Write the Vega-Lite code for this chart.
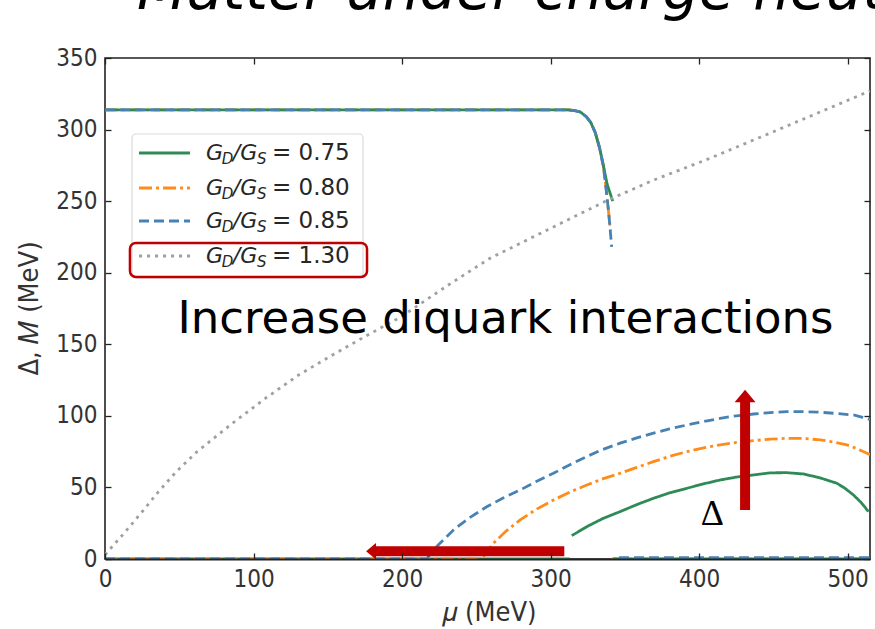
{
  "$schema": "https://vega.github.io/schema/vega-lite/v6.json",
  "autosize": "none",
  "width": 765,
  "height": 501,
  "padding": {"left": 105, "top": 58, "right": 5, "bottom": 70},
  "background": "white",
  "config": {
    "view": {"stroke": "#222", "strokeWidth": 1.6},
    "axis": {
      "labelFont": "DejaVu Sans Condensed",
      "labelFontSize": 24,
      "labelColor": "#333",
      "titleFont": "DejaVu Sans Condensed",
      "titleFontSize": 27,
      "titleColor": "#333",
      "titleFontWeight": "normal",
      "tickColor": "#222",
      "tickWidth": 1.3,
      "tickSize": -6,
      "grid": false,
      "domain": false,
      "labelFlush": false
    }
  },
  "resolve": {"axis": {"x": "independent", "y": "independent"}},
  "datasets": {
    "legendRows": [
      {"g": "0.75", "ly": 283.6, "yb": 278.7},
      {"g": "0.80", "ly": 259.2, "yb": 254.3},
      {"g": "0.85", "ly": 236.1, "yb": 231.3},
      {"g": "1.30", "ly": 211.6, "yb": 206.9}
    ]
  },
  "layer": [
    {
      "data": {"values": [
        {"g": "0.80", "seg": "M", "mu": 0, "v": 313.8},
        {"g": "0.80", "seg": "M", "mu": 150, "v": 313.8},
        {"g": "0.80", "seg": "M", "mu": 300, "v": 313.8},
        {"g": "0.80", "seg": "M", "mu": 312, "v": 313.7},
        {"g": "0.80", "seg": "M", "mu": 316, "v": 313.3},
        {"g": "0.80", "seg": "M", "mu": 320, "v": 312.3},
        {"g": "0.80", "seg": "M", "mu": 324, "v": 309},
        {"g": "0.80", "seg": "M", "mu": 327, "v": 305},
        {"g": "0.80", "seg": "M", "mu": 330, "v": 298},
        {"g": "0.80", "seg": "M", "mu": 333, "v": 287},
        {"g": "0.80", "seg": "M", "mu": 335.5, "v": 275},
        {"g": "0.80", "seg": "M", "mu": 337.8, "v": 255},
        {"g": "0.80", "seg": "M", "mu": 340.3, "v": 229},
        {"g": "0.80", "seg": "ML", "mu": 341, "v": 0},
        {"g": "0.80", "seg": "ML", "mu": 515, "v": 0},
        {"g": "0.75", "seg": "M", "mu": 0, "v": 313.8},
        {"g": "0.75", "seg": "M", "mu": 150, "v": 313.8},
        {"g": "0.75", "seg": "M", "mu": 300, "v": 313.8},
        {"g": "0.75", "seg": "M", "mu": 312, "v": 313.7},
        {"g": "0.75", "seg": "M", "mu": 316, "v": 313.3},
        {"g": "0.75", "seg": "M", "mu": 320, "v": 312.3},
        {"g": "0.75", "seg": "M", "mu": 324, "v": 309},
        {"g": "0.75", "seg": "M", "mu": 327, "v": 305},
        {"g": "0.75", "seg": "M", "mu": 330, "v": 298},
        {"g": "0.75", "seg": "M", "mu": 333, "v": 287},
        {"g": "0.75", "seg": "M", "mu": 335.5, "v": 275},
        {"g": "0.75", "seg": "M", "mu": 338, "v": 262},
        {"g": "0.75", "seg": "M", "mu": 341.8, "v": 250},
        {"g": "0.75", "seg": "ML", "mu": 342, "v": 0},
        {"g": "0.75", "seg": "ML", "mu": 515, "v": 0},
        {"g": "0.85", "seg": "M", "mu": 0, "v": 313.8},
        {"g": "0.85", "seg": "M", "mu": 150, "v": 313.8},
        {"g": "0.85", "seg": "M", "mu": 300, "v": 313.8},
        {"g": "0.85", "seg": "M", "mu": 312, "v": 313.7},
        {"g": "0.85", "seg": "M", "mu": 316, "v": 313.3},
        {"g": "0.85", "seg": "M", "mu": 320, "v": 312.3},
        {"g": "0.85", "seg": "M", "mu": 324, "v": 309},
        {"g": "0.85", "seg": "M", "mu": 327, "v": 305},
        {"g": "0.85", "seg": "M", "mu": 330, "v": 298},
        {"g": "0.85", "seg": "M", "mu": 333, "v": 287},
        {"g": "0.85", "seg": "M", "mu": 335.5, "v": 274},
        {"g": "0.85", "seg": "M", "mu": 336.6, "v": 265},
        {"g": "0.85", "seg": "M", "mu": 339, "v": 243},
        {"g": "0.85", "seg": "M", "mu": 341.1, "v": 218},
        {"g": "0.85", "seg": "ML", "mu": 346, "v": 1},
        {"g": "0.85", "seg": "ML", "mu": 515, "v": 1},
        {"g": "0.75", "seg": "D0", "mu": 0, "v": 0},
        {"g": "0.75", "seg": "D0", "mu": 313, "v": 0},
        {"g": "0.80", "seg": "D0", "mu": 0, "v": 0},
        {"g": "0.80", "seg": "D0", "mu": 254, "v": 0},
        {"g": "0.85", "seg": "D0", "mu": 0, "v": 0},
        {"g": "0.85", "seg": "D0", "mu": 216, "v": 0},
        {"g": "0.75", "seg": "D", "mu": 314.2, "v": 16.3},
        {"g": "0.75", "seg": "D", "mu": 324.4, "v": 22.6},
        {"g": "0.75", "seg": "D", "mu": 335, "v": 28.2},
        {"g": "0.75", "seg": "D", "mu": 346.8, "v": 33.1},
        {"g": "0.75", "seg": "D", "mu": 358, "v": 38},
        {"g": "0.75", "seg": "D", "mu": 369.2, "v": 42.4},
        {"g": "0.75", "seg": "D", "mu": 380, "v": 46.2},
        {"g": "0.75", "seg": "D", "mu": 391.7, "v": 49.4},
        {"g": "0.75", "seg": "D", "mu": 403, "v": 52.5},
        {"g": "0.75", "seg": "D", "mu": 414.1, "v": 55.2},
        {"g": "0.75", "seg": "D", "mu": 425, "v": 57.2},
        {"g": "0.75", "seg": "D", "mu": 436.6, "v": 58.7},
        {"g": "0.75", "seg": "D", "mu": 447.8, "v": 60.2},
        {"g": "0.75", "seg": "D", "mu": 459, "v": 60.3},
        {"g": "0.75", "seg": "D", "mu": 470.2, "v": 59.4},
        {"g": "0.75", "seg": "D", "mu": 481, "v": 56.8},
        {"g": "0.75", "seg": "D", "mu": 492.7, "v": 52.9},
        {"g": "0.75", "seg": "D", "mu": 498, "v": 49.5},
        {"g": "0.75", "seg": "D", "mu": 503.9, "v": 44.7},
        {"g": "0.75", "seg": "D", "mu": 509, "v": 39.5},
        {"g": "0.75", "seg": "D", "mu": 514, "v": 33.1},
        {"g": "0.80", "seg": "D", "mu": 254.8, "v": 1.6},
        {"g": "0.80", "seg": "D", "mu": 257, "v": 5},
        {"g": "0.80", "seg": "D", "mu": 261.5, "v": 11},
        {"g": "0.80", "seg": "D", "mu": 270, "v": 19.5},
        {"g": "0.80", "seg": "D", "mu": 279.5, "v": 27.3},
        {"g": "0.80", "seg": "D", "mu": 290, "v": 34.5},
        {"g": "0.80", "seg": "D", "mu": 301.9, "v": 41.2},
        {"g": "0.80", "seg": "D", "mu": 313, "v": 46.8},
        {"g": "0.80", "seg": "D", "mu": 324.4, "v": 51.7},
        {"g": "0.80", "seg": "D", "mu": 335, "v": 56},
        {"g": "0.80", "seg": "D", "mu": 346.8, "v": 59.9},
        {"g": "0.80", "seg": "D", "mu": 358, "v": 64},
        {"g": "0.80", "seg": "D", "mu": 369.2, "v": 68},
        {"g": "0.80", "seg": "D", "mu": 380, "v": 71.7},
        {"g": "0.80", "seg": "D", "mu": 391.7, "v": 75},
        {"g": "0.80", "seg": "D", "mu": 403, "v": 77.6},
        {"g": "0.80", "seg": "D", "mu": 414.1, "v": 79.7},
        {"g": "0.80", "seg": "D", "mu": 425, "v": 81.4},
        {"g": "0.80", "seg": "D", "mu": 436.6, "v": 82.7},
        {"g": "0.80", "seg": "D", "mu": 447.8, "v": 83.7},
        {"g": "0.80", "seg": "D", "mu": 459, "v": 84.3},
        {"g": "0.80", "seg": "D", "mu": 470, "v": 84.2},
        {"g": "0.80", "seg": "D", "mu": 481.5, "v": 83.2},
        {"g": "0.80", "seg": "D", "mu": 490, "v": 81.8},
        {"g": "0.80", "seg": "D", "mu": 499.4, "v": 79.7},
        {"g": "0.80", "seg": "D", "mu": 506, "v": 77.2},
        {"g": "0.80", "seg": "D", "mu": 513, "v": 73.9},
        {"g": "0.80", "seg": "D", "mu": 515, "v": 72.8},
        {"g": "0.85", "seg": "D", "mu": 216.6, "v": 0},
        {"g": "0.85", "seg": "D", "mu": 220, "v": 5},
        {"g": "0.85", "seg": "D", "mu": 225, "v": 10.5},
        {"g": "0.85", "seg": "D", "mu": 234.6, "v": 20.3},
        {"g": "0.85", "seg": "D", "mu": 245, "v": 28.6},
        {"g": "0.85", "seg": "D", "mu": 257, "v": 36.5},
        {"g": "0.85", "seg": "D", "mu": 268, "v": 42.6},
        {"g": "0.85", "seg": "D", "mu": 279.5, "v": 48.2},
        {"g": "0.85", "seg": "D", "mu": 290, "v": 54},
        {"g": "0.85", "seg": "D", "mu": 301.9, "v": 59.9},
        {"g": "0.85", "seg": "D", "mu": 313, "v": 65.9},
        {"g": "0.85", "seg": "D", "mu": 324.4, "v": 71.6},
        {"g": "0.85", "seg": "D", "mu": 335, "v": 76.5},
        {"g": "0.85", "seg": "D", "mu": 346.8, "v": 80.9},
        {"g": "0.85", "seg": "D", "mu": 358, "v": 84.6},
        {"g": "0.85", "seg": "D", "mu": 369.2, "v": 87.9},
        {"g": "0.85", "seg": "D", "mu": 380, "v": 90.9},
        {"g": "0.85", "seg": "D", "mu": 391.7, "v": 93.6},
        {"g": "0.85", "seg": "D", "mu": 403, "v": 96},
        {"g": "0.85", "seg": "D", "mu": 414.1, "v": 98.3},
        {"g": "0.85", "seg": "D", "mu": 425, "v": 100},
        {"g": "0.85", "seg": "D", "mu": 436.6, "v": 101.3},
        {"g": "0.85", "seg": "D", "mu": 447.8, "v": 102.3},
        {"g": "0.85", "seg": "D", "mu": 459, "v": 102.9},
        {"g": "0.85", "seg": "D", "mu": 470, "v": 102.9},
        {"g": "0.85", "seg": "D", "mu": 481.5, "v": 102.5},
        {"g": "0.85", "seg": "D", "mu": 492, "v": 101.7},
        {"g": "0.85", "seg": "D", "mu": 503.9, "v": 100.6},
        {"g": "0.85", "seg": "D", "mu": 510, "v": 99},
        {"g": "0.85", "seg": "D", "mu": 515, "v": 97.5},
        {"g": "1.30", "seg": "D", "mu": 0, "v": 3},
        {"g": "1.30", "seg": "D", "mu": 12, "v": 17},
        {"g": "1.30", "seg": "D", "mu": 25, "v": 33},
        {"g": "1.30", "seg": "D", "mu": 36, "v": 47},
        {"g": "1.30", "seg": "D", "mu": 48, "v": 61},
        {"g": "1.30", "seg": "D", "mu": 62, "v": 75},
        {"g": "1.30", "seg": "D", "mu": 86, "v": 95},
        {"g": "1.30", "seg": "D", "mu": 109, "v": 113},
        {"g": "1.30", "seg": "D", "mu": 131, "v": 129},
        {"g": "1.30", "seg": "D", "mu": 154, "v": 143},
        {"g": "1.30", "seg": "D", "mu": 176, "v": 156},
        {"g": "1.30", "seg": "D", "mu": 199, "v": 169},
        {"g": "1.30", "seg": "D", "mu": 232, "v": 192},
        {"g": "1.30", "seg": "D", "mu": 259, "v": 210},
        {"g": "1.30", "seg": "D", "mu": 300, "v": 231},
        {"g": "1.30", "seg": "D", "mu": 338, "v": 250.5},
        {"g": "1.30", "seg": "D", "mu": 370, "v": 265},
        {"g": "1.30", "seg": "D", "mu": 405, "v": 279},
        {"g": "1.30", "seg": "D", "mu": 450, "v": 298.5},
        {"g": "1.30", "seg": "D", "mu": 515, "v": 327}
      ]},
      "mark": {"type": "line", "strokeWidth": 2.8, "clip": true},
      "encoding": {
        "x": {"field": "mu", "type": "quantitative", "scale": {"domain": [0, 515], "nice": false, "zero": false},
          "axis": {"orient": "bottom", "values": [0, 100, 200, 300, 400, 500], "title": "𝜇 (MeV)", "domain": true, "domainColor": "#222", "domainWidth": 1.8, "zindex": 1, "labelPadding": 14, "titleX": 384, "titleY": 53, "titleBaseline": "middle", "titleAlign": "center"}},
        "y": {"field": "v", "type": "quantitative", "scale": {"domain": [0, 350], "nice": false},
          "axis": {"orient": "left", "values": [0, 50, 100, 150, 200, 250, 300, 350], "title": "Δ, 𝑀 (MeV)", "labelPadding": 14, "titleX": -76, "titleY": 250, "titleAngle": 270, "titleBaseline": "middle", "titleAlign": "center"}},
        "color": {"field": "g", "type": "nominal",
          "scale": {"domain": ["0.75", "0.80", "0.85", "1.30"], "range": ["#2e8b57", "#ff8c1a", "#4682b4", "#a0a0a0"]},
          "legend": null},
        "strokeDash": {"field": "g", "type": "nominal",
          "scale": {"domain": ["0.75", "0.80", "0.85", "1.30"], "range": [[1, 0], [13, 4, 3, 4], [10, 5], [3, 5]]},
          "legend": null},
        "detail": {"field": "seg"}
      }
    },
    {
      "data": {"values": [{"xa": 18.2, "xb": 173.7, "ya": 196.3, "yb": 296.9}]},
      "mark": {"type": "rect", "fill": "white", "fillOpacity": 0.85, "stroke": "#d9d9d9", "strokeWidth": 1.2, "cornerRadius": 4},
      "encoding": {
        "x": {"field": "xa", "type": "quantitative", "scale": {"domain": [0, 515], "nice": false, "zero": false},
          "axis": {"orient": "top", "values": [0, 100, 200, 300, 400, 500], "labels": false, "title": null}},
        "x2": {"field": "xb"},
        "y": {"field": "ya", "type": "quantitative", "scale": {"domain": [0, 350], "nice": false},
          "axis": {"orient": "right", "values": [0, 50, 100, 150, 200, 250, 300, 350], "labels": false, "title": null}},
        "y2": {"field": "yb"}
      }
    },
    {
      "data": {"name": "legendRows"},
      "mark": {"type": "rule", "strokeWidth": 3, "strokeCap": "butt"},
      "encoding": {
        "x": {"datum": 22.9, "type": "quantitative", "scale": {"domain": [0, 515], "nice": false, "zero": false}, "axis": null},
        "x2": {"datum": 57.2},
        "y": {"field": "ly", "type": "quantitative", "scale": {"domain": [0, 350], "nice": false}, "axis": null},
        "color": {"field": "g", "type": "nominal", "legend": null},
        "strokeDash": {"field": "g", "type": "nominal", "legend": null}
      }
    },
    {
      "data": {"name": "legendRows"},
      "mark": {"type": "text", "font": "DejaVu Sans", "fontStyle": "italic", "fontSize": 22, "align": "left", "baseline": "alphabetic", "color": "#262626"},
      "encoding": {
        "x": {"datum": 68.0, "type": "quantitative", "scale": {"domain": [0, 515], "nice": false, "zero": false}, "axis": null},
        "y": {"field": "yb", "type": "quantitative", "scale": {"domain": [0, 350], "nice": false}, "axis": null},
        "text": {"value": "G"}
      }
    },
    {
      "data": {"name": "legendRows"},
      "mark": {"type": "text", "font": "DejaVu Sans", "fontStyle": "italic", "fontSize": 15, "align": "left", "baseline": "alphabetic", "color": "#262626", "dy": 4},
      "encoding": {
        "x": {"datum": 78.6, "type": "quantitative", "scale": {"domain": [0, 515], "nice": false, "zero": false}, "axis": null},
        "y": {"field": "yb", "type": "quantitative", "scale": {"domain": [0, 350], "nice": false}, "axis": null},
        "text": {"value": "D"}
      }
    },
    {
      "data": {"name": "legendRows"},
      "mark": {"type": "text", "font": "DejaVu Sans", "fontStyle": "italic", "fontSize": 22, "align": "left", "baseline": "alphabetic", "color": "#262626"},
      "encoding": {
        "x": {"datum": 86.0, "type": "quantitative", "scale": {"domain": [0, 515], "nice": false, "zero": false}, "axis": null},
        "y": {"field": "yb", "type": "quantitative", "scale": {"domain": [0, 350], "nice": false}, "axis": null},
        "text": {"value": "/G"}
      }
    },
    {
      "data": {"name": "legendRows"},
      "mark": {"type": "text", "font": "DejaVu Sans", "fontStyle": "italic", "fontSize": 15, "align": "left", "baseline": "alphabetic", "color": "#262626", "dy": 4},
      "encoding": {
        "x": {"datum": 102.4, "type": "quantitative", "scale": {"domain": [0, 515], "nice": false, "zero": false}, "axis": null},
        "y": {"field": "yb", "type": "quantitative", "scale": {"domain": [0, 350], "nice": false}, "axis": null},
        "text": {"value": "S"}
      }
    },
    {
      "data": {"name": "legendRows"},
      "transform": [{"calculate": "'= ' + datum.g", "as": "lab"}],
      "mark": {"type": "text", "font": "DejaVu Sans", "fontSize": 23, "align": "left", "baseline": "alphabetic", "color": "#262626"},
      "encoding": {
        "x": {"datum": 112.4, "type": "quantitative", "scale": {"domain": [0, 515], "nice": false, "zero": false}, "axis": null},
        "y": {"field": "yb", "type": "quantitative", "scale": {"domain": [0, 350], "nice": false}, "axis": null},
        "text": {"field": "lab", "type": "nominal"}
      }
    },
    {
      "data": {"values": [{"xa": 16.8, "xb": 176.4, "ya": 197, "yb": 220.8}]},
      "mark": {"type": "rect", "filled": false, "stroke": "#c00000", "strokeWidth": 2.5, "cornerRadius": 6},
      "encoding": {
        "x": {"field": "xa", "type": "quantitative", "scale": {"domain": [0, 515], "nice": false, "zero": false}, "axis": null},
        "x2": {"field": "xb"},
        "y": {"field": "ya", "type": "quantitative", "scale": {"domain": [0, 350], "nice": false}, "axis": null},
        "y2": {"field": "yb"}
      }
    },
    {
      "data": {"values": [{"mu": 269.6, "v": 157.9, "label": "Increase diquark interactions"}]},
      "mark": {"type": "text", "font": "DejaVu Sans", "fontSize": 45, "align": "center", "baseline": "alphabetic", "color": "black"},
      "encoding": {
        "x": {"field": "mu", "type": "quantitative", "scale": {"domain": [0, 515], "nice": false, "zero": false}, "axis": null},
        "y": {"field": "v", "type": "quantitative", "scale": {"domain": [0, 350], "nice": false}, "axis": null},
        "text": {"field": "label"}
      }
    },
    {
      "data": {"values": [{"mu": 408.8, "v": 23.8, "label": "Δ"}]},
      "mark": {"type": "text", "font": "Liberation Serif", "fontSize": 36, "align": "center", "baseline": "alphabetic", "color": "black"},
      "encoding": {
        "x": {"field": "mu", "type": "quantitative", "scale": {"domain": [0, 515], "nice": false, "zero": false}, "axis": null},
        "y": {"field": "v", "type": "quantitative", "scale": {"domain": [0, 350], "nice": false}, "axis": null},
        "text": {"field": "label"}
      }
    },
    {
      "data": {"values": [
        {"xa": 430.9, "xb": 430.9, "ya": 34.2, "yb": 110.5},
        {"xa": 309.2, "xb": 181.5, "ya": 5.4, "yb": 5.4}
      ]},
      "mark": {"type": "rule", "color": "#c00000", "strokeWidth": 10, "strokeCap": "butt"},
      "encoding": {
        "x": {"field": "xa", "type": "quantitative", "scale": {"domain": [0, 515], "nice": false, "zero": false}, "axis": null},
        "x2": {"field": "xb"},
        "y": {"field": "ya", "type": "quantitative", "scale": {"domain": [0, 350], "nice": false}, "axis": null},
        "y2": {"field": "yb"}
      }
    },
    {
      "data": {"values": [{"mu": 430.9, "v": 113.9}]},
      "mark": {"type": "point", "shape": "M-1,0.6L0,-0.6L1,0.6Z", "size": 440, "filled": true, "opacity": 1, "color": "#c00000"},
      "encoding": {
        "x": {"field": "mu", "type": "quantitative", "scale": {"domain": [0, 515], "nice": false, "zero": false}, "axis": null},
        "y": {"field": "v", "type": "quantitative", "scale": {"domain": [0, 350], "nice": false}, "axis": null}
      }
    },
    {
      "data": {"values": [{"mu": 179.1, "v": 5.4}]},
      "mark": {"type": "point", "shape": "M0.6,-1L-0.6,0L0.6,1Z", "size": 270, "filled": true, "opacity": 1, "color": "#c00000"},
      "encoding": {
        "x": {"field": "mu", "type": "quantitative", "scale": {"domain": [0, 515], "nice": false, "zero": false}, "axis": null},
        "y": {"field": "v", "type": "quantitative", "scale": {"domain": [0, 350], "nice": false}, "axis": null}
      }
    },
    {
      "data": {"values": [{"mu": 21.5, "v": 384.5, "label": "Matter under charge neutrality"}]},
      "mark": {"type": "text", "font": "DejaVu Sans", "fontStyle": "italic", "fontSize": 58, "align": "left", "baseline": "alphabetic", "color": "black", "clip": false},
      "encoding": {
        "x": {"field": "mu", "type": "quantitative", "scale": {"domain": [0, 515], "nice": false, "zero": false}, "axis": null},
        "y": {"field": "v", "type": "quantitative", "scale": {"domain": [0, 350], "nice": false}, "axis": null},
        "text": {"field": "label"}
      }
    }
  ]
}
